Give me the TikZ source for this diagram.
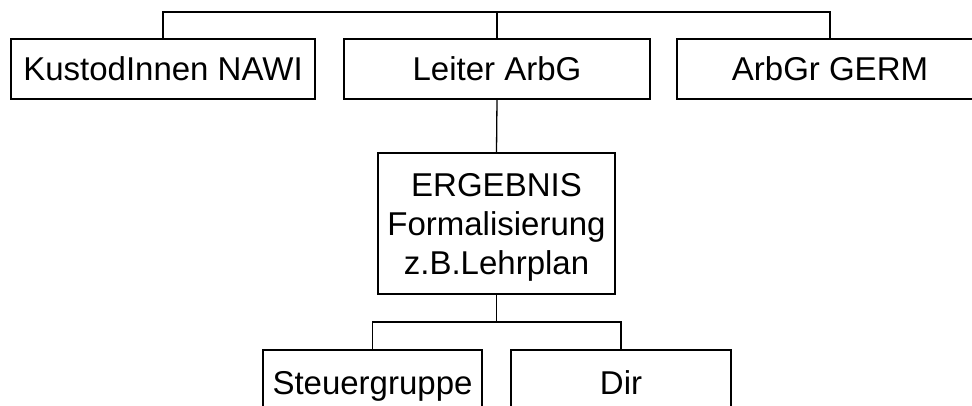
\documentclass[tikz,border=0pt]{standalone}
\usepackage{fontspec}
\setmainfont{Liberation Sans}
\begin{document}
\begin{tikzpicture}[x=1pt,y=-1pt,line width=1.3pt,
  box/.style={draw,rectangle,inner sep=0pt,text height=23.5pt,text depth=0pt,font=\fontsize{33}{39}\selectfont},
  txt/.style={inner sep=0pt,align=center,font=\fontsize{33}{39}\selectfont}]
\useasboundingbox (0,0) rectangle (972,405);
\clip (0,0) rectangle (972,405);
\node[box,minimum width=304pt,minimum height=60pt] (kus) at (163,69) {KustodInnen NAWI};
\node[box,minimum width=306pt,minimum height=60pt] (lei) at (497,69) {Leiter ArbG};
\node[box,minimum width=306pt,minimum height=60pt] (arb) at (830,69) {ArbGr GERM};
\node[box,minimum width=237pt,minimum height=141pt] (erg) at (496.5,223.5) {};
\node[txt] (ergtxt) at (496.5,227.6) {ERGEBNIS\\Formalisierung\\z.B.Lehrplan};
\node[box,minimum width=219pt,minimum height=65pt] (steu) at (372.5,382.5) {Steuergruppe};
\node[box,minimum width=220pt,minimum height=65pt] (dir) at (621,382.5) {Dir};
\coordinate (top) at (497,12);
\coordinate (bot) at (496.5,322);
\draw (kus.north) |- (top) -| (arb.north);
\draw (top) -- (lei.north);
\draw (lei.south) -- (erg.north);
\draw (erg.south) -- (bot);
\draw (steu.north) |- (bot) -| (dir.north);
\end{tikzpicture}
\end{document}
